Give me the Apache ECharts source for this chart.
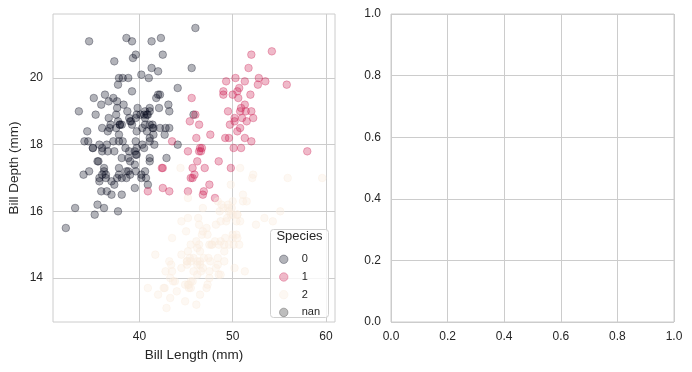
<!DOCTYPE html>
<html>
<head>
<meta charset="utf-8">
<script src="https://cdn.jsdelivr.net/npm/echarts@6/dist/echarts.min.js"></script>
<style>html,body{margin:0;padding:0;background:#fff}#c{width:692px;height:372px}</style>
</head>
<body>
<div id="c"></div>
<script>
// ---- data (Palmer penguins: bill length / bill depth, mm) ----
const adelieLength = [39.1,39.5,40.3,36.7,39.3,38.9,39.2,34.1,42.0,37.8,37.8,41.1,38.6,34.6,36.6,38.7,42.5,34.4,46.0,37.8,37.7,35.9,38.2,38.8,35.3,40.6,40.5,37.9,40.5,39.5,37.2,39.5,40.9,36.4,39.2,38.8,42.2,37.6,39.8,36.5,40.8,36.0,44.1,37.0,39.6,41.1,37.5,36.0,42.3,39.6,40.1,35.0,42.0,34.5,41.4,39.0,40.6,36.5,37.6,35.7,41.3,37.6,41.1,36.4,41.6,35.5,41.1,35.9,41.8,33.5,39.7,39.6,45.8,35.5,42.8,40.9,37.2,36.2,42.1,34.6,42.9,36.7,35.1,37.3,41.3,36.3,36.9,38.3,38.9,35.7,41.1,34.0,39.6,36.2,40.8,38.1,40.3,33.1,43.2,35.0,41.0,37.7,37.8,37.9,39.7,38.6,38.2,38.1,43.2,38.1,45.6,39.7,42.2,39.6,42.7,38.6,37.3,35.7,41.1,36.2,37.7,40.2,41.4,35.2,40.6,38.8,41.5,39.0,44.1,38.5,43.1,36.8,37.5,38.1,41.1,35.6,40.2,37.0,39.7,40.2,40.6,32.1,40.7,37.3,39.0,39.2,36.6,36.0,37.8,36.0,41.5];
const adelieDepth  = [18.7,17.4,18.0,19.3,20.6,17.8,19.6,18.1,20.2,17.1,17.3,17.6,21.2,21.1,17.8,19.0,20.7,18.4,21.5,18.3,18.7,19.2,18.1,17.2,18.9,18.6,17.9,18.6,18.9,16.7,18.1,17.8,18.9,17.0,21.1,20.0,18.5,19.3,19.1,18.0,18.4,18.5,19.7,16.9,18.8,19.0,18.9,17.9,21.2,17.7,18.9,17.9,19.5,18.1,18.6,17.5,18.8,16.6,19.1,16.9,21.1,17.0,18.2,17.1,18.0,16.2,19.1,16.6,19.4,19.0,18.4,17.2,18.9,17.5,18.5,16.8,19.4,16.1,19.1,17.2,17.6,18.8,19.4,17.8,20.3,19.5,18.6,19.2,18.8,18.0,18.1,17.1,18.1,17.3,18.9,18.6,18.5,16.1,18.5,17.9,20.0,16.0,20.0,18.6,18.9,17.2,20.0,17.0,19.0,16.5,20.3,17.7,19.5,20.7,18.3,17.0,20.5,17.0,18.6,17.2,19.8,17.0,18.5,15.9,19.0,17.6,18.3,17.1,18.0,17.9,19.2,18.5,18.5,17.6,17.5,17.5,20.1,16.5,17.9,17.1,17.2,15.5,17.0,16.8,18.7,18.6,18.4,17.8,18.1,17.1,18.5];
const chinstrapLength = [46.5,50.0,51.3,45.4,52.7,45.2,46.1,51.3,46.0,51.3,46.6,51.7,47.0,52.0,45.9,50.5,50.3,58.0,46.4,49.2,42.4,48.5,43.2,50.6,46.7,52.0,50.5,49.5,46.4,52.8,40.9,54.2,42.5,51.0,49.7,47.5,47.6,52.0,46.9,53.5,49.0,46.2,50.9,45.5,50.9,50.8,50.1,49.0,51.5,49.8,48.1,51.4,45.7,50.7,42.5,52.2,45.2,49.3,50.2,45.6,51.9,46.8,45.7,55.8,43.5,49.6,50.8,50.2];
const chinstrapDepth  = [17.9,19.5,19.2,18.7,19.8,17.8,18.2,18.2,18.9,19.9,17.8,20.3,17.3,18.1,17.1,19.6,20.0,17.8,18.6,18.2,17.3,17.5,16.6,19.4,17.9,19.0,18.4,19.0,17.8,20.0,16.6,20.8,16.7,18.8,18.6,16.8,18.3,20.7,16.6,19.9,19.5,17.5,19.1,17.0,17.9,18.5,17.9,19.6,18.7,17.3,16.4,19.0,17.3,19.7,17.3,18.8,16.6,19.9,18.8,19.4,19.5,16.5,17.0,19.8,18.1,18.2,19.0,18.7];
const gentooLength = [46.1,50.0,48.7,50.0,47.6,46.5,45.4,46.7,43.3,46.8,40.9,49.0,45.5,48.4,45.8,49.3,42.0,49.2,46.2,48.7,50.2,45.1,46.5,46.3,42.9,46.1,44.5,47.8,48.2,50.0,47.3,42.8,45.1,59.6,49.1,48.4,42.6,44.4,44.0,48.7,42.7,49.6,45.3,49.6,50.5,43.6,45.5,50.5,44.9,45.2,46.6,48.5,45.1,50.1,46.5,45.0,43.8,45.5,43.2,50.4,45.3,46.2,45.7,54.3,45.8,49.8,46.2,49.5,43.5,50.7,47.7,46.4,48.2,46.5,46.4,48.6,47.5,51.1,45.2,45.2,49.1,52.5,47.4,50.0,44.9,50.8,43.4,51.3,47.5,52.1,47.5,52.2,45.5,49.5,44.5,50.8,49.4,46.9,48.4,51.1,48.5,55.9,47.2,49.1,47.3,46.8,41.7,53.4,43.3,48.1,50.5,49.8,43.5,51.5,46.2,55.1,44.5,48.8,47.2,46.8,50.4,45.2,49.9];
const gentooDepth  = [13.2,16.3,14.1,15.2,14.5,13.5,14.6,15.3,13.4,15.4,13.7,16.1,13.7,14.6,14.6,15.7,13.5,15.2,14.5,15.1,14.3,14.5,14.5,15.8,13.1,15.1,14.3,15.0,14.3,15.3,15.3,14.2,14.5,17.0,14.8,16.3,13.7,17.3,13.6,15.7,13.7,16.0,13.7,15.0,15.9,13.9,13.9,15.9,13.3,15.8,14.2,14.1,14.4,15.0,14.4,15.4,13.9,15.0,14.5,15.3,13.8,14.9,13.9,15.7,14.2,16.8,14.4,16.2,14.2,15.0,15.0,15.6,15.6,14.8,15.0,16.0,14.2,16.3,13.8,16.4,14.5,15.6,14.6,15.9,13.8,17.3,14.4,14.2,14.0,17.0,15.0,17.1,14.5,16.1,14.7,15.7,15.8,14.6,14.4,16.5,15.0,17.0,15.5,15.0,13.8,16.1,14.7,15.8,14.0,15.1,15.2,15.9,15.2,16.3,14.1,16.0,15.7,16.2,13.7,14.3,15.7,14.8,16.1];
const speciesNames = ['0','1','2','nan'];
const xTicks = [40, 50, 60];
const yTicks = [14, 16, 18, 20];

// ---- styling ----
const FONT = '"Liberation Sans", Arial, Helvetica, sans-serif';
const TXT = '#262626';
const GRIDC = '#cccccc';
const speciesColors = ['rgba(3,5,26,0.38)', 'rgba(203,27,79,0.38)', 'rgba(250,235,221,0.45)', 'rgba(40,40,40,0.38)'];

function zipPts(a, b) { return a.map((v, i) => [v, b[i]]); }
const allX = adelieLength.concat(chinstrapLength, gentooLength);
const allY = adelieDepth.concat(chinstrapDepth, gentooDepth);
function padRange(arr) {
  const mn = Math.min(...arr), mx = Math.max(...arr), m = (mx - mn) * 0.05;
  return [mn - m, mx + m];
}
const [xMin, xMax] = padRange(allX);
const [yMin, yMax] = padRange(allY);

function mkSeries(name, idx, pts) {
  return {
    type: 'scatter', name: name, xAxisIndex: 0, yAxisIndex: 0,
    data: pts, symbol: 'circle', symbolSize: 7.6, z: 3,
    itemStyle: { color: speciesColors[idx], borderColor: speciesColors[idx], borderWidth: 1 },
    emphasis: { disabled: true }, silent: true
  };
}

const axisCommon = {
  axisLine: { show: false }, axisTick: { show: false },
  splitLine: { show: true, lineStyle: { color: GRIDC, width: 1 } },
  nameTextStyle: { color: TXT, fontFamily: FONT, fontSize: 13.5 }
};

const chart = echarts.init(document.getElementById('c'), null, { renderer: 'canvas' });
chart.setOption({
  animation: false,
  backgroundColor: '#ffffff',
  grid: [
    { left: 53, right: 357, top: 14, bottom: 50, show: true, borderColor: GRIDC, borderWidth: 1, backgroundColor: 'transparent' },
    { left: 391, right: 18, top: 14, bottom: 50, show: true, borderColor: GRIDC, borderWidth: 1, backgroundColor: 'transparent' }
  ],
  xAxis: [
    Object.assign({}, axisCommon, {
      type: 'value', gridIndex: 0, min: xMin, max: xMax,
      name: 'Bill Length (mm)', nameLocation: 'middle', nameGap: 25,
      axisTick: { show: false, customValues: xTicks },
      axisLabel: { customValues: xTicks, color: TXT, fontFamily: FONT, fontSize: 12, margin: 9 }
    }),
    Object.assign({}, axisCommon, {
      type: 'value', gridIndex: 1, min: 0, max: 1, interval: 0.2,
      axisLabel: { color: TXT, fontFamily: FONT, fontSize: 12, margin: 9, formatter: v => v.toFixed(1) }
    })
  ],
  yAxis: [
    Object.assign({}, axisCommon, {
      type: 'value', gridIndex: 0, min: yMin, max: yMax,
      name: 'Bill Depth (mm)', nameLocation: 'middle', nameGap: 32, nameRotate: 90,
      axisTick: { show: false, customValues: yTicks },
      axisLabel: { customValues: yTicks, color: TXT, fontFamily: FONT, fontSize: 12, margin: 10 }
    }),
    Object.assign({}, axisCommon, {
      type: 'value', gridIndex: 1, min: 0, max: 1, interval: 0.2,
      axisLabel: { color: TXT, fontFamily: FONT, fontSize: 12, margin: 10, formatter: v => v.toFixed(1) }
    })
  ],
  legend: {
    orient: 'vertical', left: 274, top: 248.3, z: 20,
    itemWidth: 26, itemHeight: 8.5, itemGap: 5.7,
    icon: 'circle', selectedMode: false,
    textStyle: { color: TXT, fontFamily: FONT, fontSize: 11, lineHeight: 12 },
    data: speciesNames.map((n, i) => ({ name: n, icon: 'circle', itemStyle: { color: speciesColors[i], borderColor: speciesColors[i], borderWidth: 1 } }))
  },
  graphic: [
    { type: 'rect', z: 15, shape: { x: 270.5, y: 229.5, width: 58, height: 88, r: 3 },
      style: { fill: 'rgba(255,255,255,0.8)', stroke: '#d0d0d0', lineWidth: 1 } },
    { type: 'text', z: 16, x: 299.5, y: 236.5,
      style: { text: 'Species', fill: TXT, font: '13px ' + FONT, textAlign: 'center', textVerticalAlign: 'middle' } }
  ],
  series: [
    mkSeries('0', 0, zipPts(adelieLength, adelieDepth)),
    mkSeries('1', 1, zipPts(chinstrapLength, chinstrapDepth)),
    mkSeries('2', 2, zipPts(gentooLength, gentooDepth)),
    mkSeries('nan', 3, []),
    { type: 'scatter', xAxisIndex: 1, yAxisIndex: 1, data: [], silent: true }
  ]
});
</script>
</body>
</html>
